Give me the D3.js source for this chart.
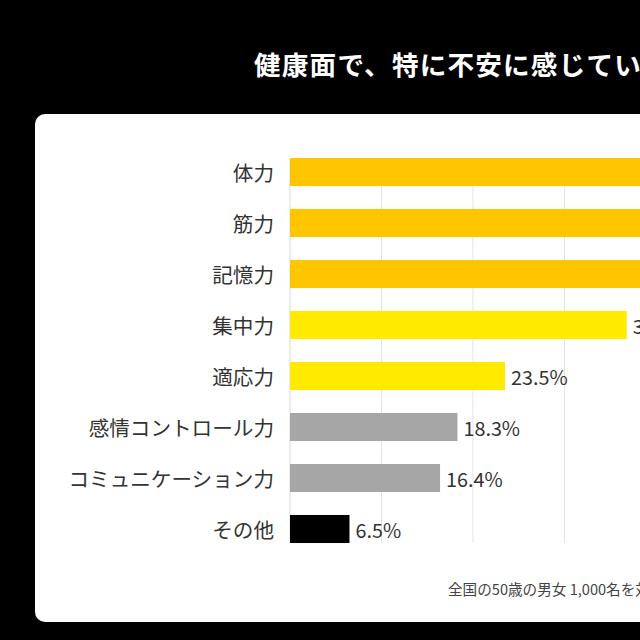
<!DOCTYPE html>
<html>
<head>
<meta charset="utf-8">
<script src="https://cdn.jsdelivr.net/npm/d3@7"></script>
<style>
html, body { margin: 0; padding: 0; background: #000; overflow: hidden; }
text { font-family: "Noto Sans CJK JP", "Noto Sans", sans-serif; }
</style>
</head>
<body>
<div id="chart"></div>
<script>
// data (first three bars run off the right edge)
var categories = ["体力", "筋力", "記憶力", "集中力", "適応力", "感情コントロール力", "コミュニケーション力", "その他"];
var values = [58.4, 49.2, 44.6, 36.8, 23.5, 18.3, 16.4, 6.5];
var barColors = ["#ffc600", "#ffc600", "#ffc600", "#ffea00", "#ffea00", "#a6a6a6", "#a6a6a6", "#000000"];
var gridTicks = [10, 20, 30, 40, 50, 60, 70];
var titleText = "健康面で、特に不安に感じていることは何ですか？";
var noteText = "全国の50歳の男女 1,000名を対象に調査";

var width = 1000, height = 640;

var svg = d3.select("#chart")
  .append("svg")
  .attr("width", width)
  .attr("height", height);

svg.append("rect")
  .attr("width", width)
  .attr("height", height)
  .attr("fill", "#000");

// title
svg.append("text")
  .attr("x", 254)
  .attr("y", 75)
  .attr("fill", "#fff")
  .attr("font-size", 26.6)
  .attr("font-weight", "bold")
  .attr("letter-spacing", 1.2)
  .text(titleText);

// white card
svg.append("rect")
  .attr("x", 35)
  .attr("y", 114)
  .attr("width", 1200)
  .attr("height", 508)
  .attr("rx", 10)
  .attr("fill", "#fff");

// scales
var x = d3.scaleLinear()
  .domain([0, 70])
  .range([290, 290 + 70 * 9.15]);

var y = d3.scaleBand()
  .domain(categories)
  .range([146.5, 146.5 + 8 * 51])
  .paddingInner(0.45)
  .paddingOuter(0.225);

var gridTop = y(categories[0]);
var gridBottom = y(categories[categories.length - 1]) + y.bandwidth();

// gridlines
svg.append("g")
  .selectAll("line")
  .data(gridTicks)
  .enter()
  .append("line")
  .attr("x1", function(d) { return x(d); })
  .attr("x2", function(d) { return x(d); })
  .attr("y1", gridTop)
  .attr("y2", gridBottom)
  .attr("stroke", "#e3e3e3")
  .attr("stroke-width", 1);

// left axis line
svg.append("line")
  .attr("x1", x(0))
  .attr("x2", x(0))
  .attr("y1", gridTop)
  .attr("y2", gridBottom)
  .attr("stroke", "#d9d9d9")
  .attr("stroke-width", 1);

// bars
svg.append("g")
  .selectAll("rect")
  .data(values)
  .enter()
  .append("rect")
  .attr("x", x(0))
  .attr("y", function(d, i) { return y(categories[i]); })
  .attr("width", function(d) { return x(d) - x(0); })
  .attr("height", y.bandwidth())
  .attr("fill", function(d, i) { return barColors[i]; });

// value labels
svg.append("g")
  .selectAll("text")
  .data(values)
  .enter()
  .append("text")
  .attr("x", function(d) { return x(d) + 6; })
  .attr("y", function(d, i) { return y(categories[i]) + y.bandwidth() / 2; })
  .attr("dominant-baseline", "central")
  .attr("font-size", 19.8)
  .attr("fill", "#333")
  .text(function(d) { return d.toFixed(1) + "%"; });

// category labels
svg.append("g")
  .selectAll("text")
  .data(categories)
  .enter()
  .append("text")
  .attr("x", 274)
  .attr("y", function(d) { return y(d) + y.bandwidth() / 2; })
  .attr("text-anchor", "end")
  .attr("dominant-baseline", "central")
  .attr("font-size", 20.6)
  .attr("fill", "#333")
  .text(function(d) { return d; });

// footnote
svg.append("text")
  .attr("x", 448)
  .attr("y", 595)
  .attr("font-size", 14.6)
  .attr("fill", "#444")
  .text(noteText);
</script>
</body>
</html>
